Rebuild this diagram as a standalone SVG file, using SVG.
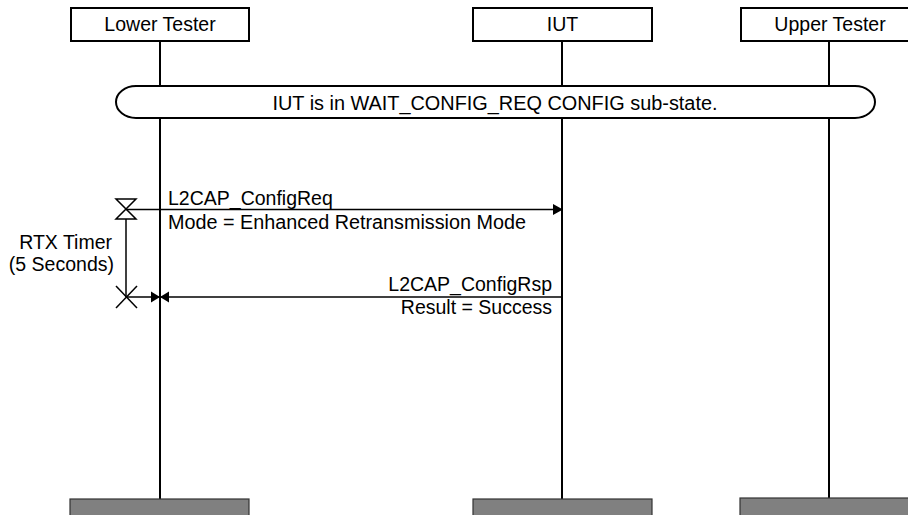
<svg xmlns="http://www.w3.org/2000/svg" width="908" height="515" viewBox="0 0 908 515">
<style>
text{font-family:"Liberation Sans",Arial,sans-serif;font-size:19.5px;fill:#000}
.box{fill:#fff;stroke:#000;stroke-width:2}
.end{fill:#808080;stroke:#333;stroke-width:1.2}
.life{stroke:#000;stroke-width:2;fill:none}
.msg{stroke:#000;stroke-width:1.5;fill:none}
.head{fill:#000;stroke:none}
</style>
<rect width="908" height="515" fill="#fff"/>
<g id="lifelines">
<line class="life" x1="160" y1="41" x2="160" y2="499"/>
<line class="life" x1="562" y1="41" x2="562" y2="499"/>
<line class="life" x1="829" y1="41" x2="829" y2="499"/>
</g>
<g id="lower-tester">
<rect class="box" x="71" y="8" width="178" height="33"/>
<text x="160" y="31" text-anchor="middle">Lower Tester</text>
<rect class="end" x="70" y="499" width="179" height="20"/>
</g>
<g id="iut">
<rect class="box" x="473" y="8" width="179" height="33"/>
<text x="562.5" y="31" text-anchor="middle">IUT</text>
<rect class="end" x="473" y="499" width="179" height="20"/>
</g>
<g id="upper-tester">
<rect class="box" x="741" y="8" width="178" height="33"/>
<text x="830" y="31" text-anchor="middle">Upper Tester</text>
<rect class="end" x="740" y="498" width="179" height="21"/>
</g>
<g id="state">
<rect class="box" x="116" y="86" width="759" height="32" rx="20" ry="16"/>
<text x="495" y="110" text-anchor="middle" textLength="445" lengthAdjust="spacingAndGlyphs">IUT is in WAIT_CONFIG_REQ CONFIG sub-state.</text>
</g>
<g id="rtx-timer">
<polygon class="msg" points="116,199 136,199 116,219 136,219" fill="#fff"/>
<line class="msg" x1="126" y1="219" x2="126" y2="297"/>
<line class="msg" x1="116" y1="286" x2="137" y2="308"/>
<line class="msg" x1="137" y1="286" x2="116" y2="308"/>
<text x="112" y="249" text-anchor="end">RTX Timer</text>
<text x="114" y="271" text-anchor="end">(5 Seconds)</text>
</g>
<g id="connectors">
<line class="msg" x1="126" y1="209.5" x2="556" y2="209.5"/>
<polygon class="head" points="563,209.5 553,204 553,215"/>
<text x="168" y="205">L2CAP_ConfigReq</text>
<text x="168" y="229" textLength="358" lengthAdjust="spacingAndGlyphs">Mode = Enhanced Retransmission Mode</text>
<line class="msg" x1="126" y1="297" x2="562" y2="297"/>
<polygon class="head" points="160,297 151,291.5 151,302.5"/>
<polygon class="head" points="160,297 169,291.5 169,302.5"/>
<text x="552" y="291" text-anchor="end">L2CAP_ConfigRsp</text>
<text x="552" y="314" text-anchor="end">Result = Success</text>
</g>
</svg>
